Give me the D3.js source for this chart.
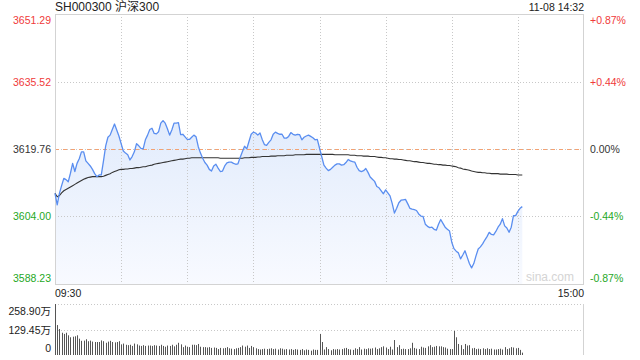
<!DOCTYPE html>
<html>
<head>
<meta charset="utf-8">
<script src="https://cdn.jsdelivr.net/npm/d3@7/dist/d3.min.js"></script>
<style>
  html, body { margin: 0; padding: 0; background: #fff; }
  svg { display: block; font-family: Arial, "Liberation Sans", "Noto Sans CJK SC", sans-serif; }
</style>
</head>
<body>
<svg id="chart" width="640" height="360"></svg>
<script>
// 分时数据 (每分钟, 09:30 起, 共 241 个时间点, 画到 14:32)
const prices = [
  3609.4, 3606.7, 3609.4, 3611.2, 3612.9, 3612.6, 3612.1, 3614.1, 3616.4, 3614.5,
  3616.4, 3617.5, 3619.1, 3619.1, 3617.0, 3616.4, 3615.8, 3615.0, 3614.0, 3613.3,
  3613.7, 3613.7, 3617.0, 3620.5, 3622.5, 3623.0, 3624.3, 3625.6, 3624.2, 3622.8,
  3621.0, 3619.3, 3618.8, 3618.4, 3617.2, 3618.0, 3619.1, 3621.0, 3620.5, 3619.9,
  3619.8, 3621.9, 3623.0, 3624.3, 3624.6, 3623.4, 3623.3, 3623.8, 3625.8, 3626.4,
  3625.8, 3624.5, 3623.0, 3624.2, 3625.8, 3625.8, 3625.9, 3623.1, 3623.2, 3622.6,
  3622.0, 3622.0, 3622.5, 3623.0, 3622.6, 3620.3, 3618.8, 3617.6, 3616.6, 3616.0,
  3615.0, 3614.6, 3615.8, 3616.2, 3615.3, 3614.5, 3614.6, 3615.8, 3616.5, 3616.7,
  3616.7, 3616.4, 3616.2, 3616.3, 3617.8, 3619.1, 3620.4, 3619.8, 3621.5, 3623.2,
  3623.7, 3623.5, 3623.0, 3623.5, 3622.0, 3620.8, 3620.6, 3621.3, 3621.9, 3623.2,
  3623.7, 3623.4, 3623.2, 3623.2, 3622.3, 3622.3, 3622.7, 3623.6, 3623.2, 3623.0,
  3623.2, 3623.1, 3621.9, 3622.5, 3622.8, 3623.0, 3622.7, 3622.4, 3621.9, 3622.0,
  3620.0, 3618.0, 3616.0, 3615.3, 3614.7, 3615.0, 3615.5, 3616.0, 3616.3, 3616.3,
  3616.0, 3616.1, 3616.6, 3617.3, 3617.0, 3616.8, 3616.7, 3615.5, 3614.7, 3614.5,
  3614.7, 3615.2, 3614.3, 3613.2, 3612.7, 3612.2, 3611.0, 3610.7, 3610.0, 3609.3,
  3610.2, 3609.5, 3608.8, 3607.0, 3604.8, 3605.9, 3607.2, 3607.8, 3607.9, 3608.0,
  3607.0, 3605.9, 3605.7, 3605.6, 3605.4, 3604.6, 3604.1, 3604.0, 3602.2, 3601.7,
  3601.4, 3601.5, 3601.0, 3600.8, 3602.2, 3603.3, 3602.4, 3601.5, 3601.0, 3600.6,
  3598.0, 3596.5, 3595.9, 3595.5, 3594.1, 3595.0, 3596.0, 3594.5, 3593.0, 3592.0,
  3593.0, 3594.8, 3596.4, 3596.9, 3597.6, 3598.5, 3599.3, 3600.3, 3599.8, 3599.7,
  3600.5, 3601.5, 3602.2, 3603.5, 3601.8, 3601.3, 3600.3, 3601.5, 3604.2, 3604.2,
  3605.2, 3605.9, 3606.3
];

// 均价
const avgPrices = [
  3609.4, 3608.6, 3608.9, 3609.5, 3610.0, 3610.3, 3610.6, 3610.9, 3611.2, 3611.5,
  3611.8, 3612.1, 3612.4, 3612.7, 3612.9, 3613.1, 3613.2, 3613.3, 3613.3, 3613.3,
  3613.3, 3613.3, 3613.4, 3613.6, 3613.8, 3614.0, 3614.3, 3614.5, 3614.7, 3614.9,
  3615.0, 3615.0, 3615.1, 3615.1, 3615.2, 3615.2, 3615.3, 3615.4, 3615.4, 3615.5,
  3615.6, 3615.6, 3615.8, 3615.9, 3616.0, 3616.2, 3616.3, 3616.4, 3616.5, 3616.6,
  3616.7, 3616.8, 3616.9, 3617.0, 3617.1, 3617.2, 3617.3, 3617.4, 3617.4, 3617.5,
  3617.6, 3617.6, 3617.7, 3617.7, 3617.7, 3617.7, 3617.7, 3617.7, 3617.7, 3617.7,
  3617.7, 3617.7, 3617.7, 3617.7, 3617.7, 3617.6, 3617.6, 3617.6, 3617.6, 3617.6,
  3617.6, 3617.6, 3617.6, 3617.6, 3617.6, 3617.6, 3617.7, 3617.7, 3617.7, 3617.8,
  3617.8, 3617.8, 3617.9, 3617.9, 3618.0, 3618.0, 3618.0, 3618.0, 3618.1, 3618.1,
  3618.1, 3618.2, 3618.2, 3618.2, 3618.2, 3618.3, 3618.3, 3618.3, 3618.3, 3618.4,
  3618.4, 3618.4, 3618.4, 3618.4, 3618.5, 3618.5, 3618.5, 3618.5, 3618.5, 3618.5,
  3618.5, 3618.5, 3618.5, 3618.5, 3618.5, 3618.5, 3618.5, 3618.4, 3618.4, 3618.4,
  3618.4, 3618.4, 3618.4, 3618.4, 3618.3, 3618.3, 3618.3, 3618.2, 3618.2, 3618.2,
  3618.1, 3618.1, 3618.1, 3618.0, 3618.0, 3618.0, 3617.9, 3617.8, 3617.8, 3617.7,
  3617.7, 3617.6, 3617.5, 3617.5, 3617.4, 3617.4, 3617.3, 3617.3, 3617.2, 3617.1,
  3617.0, 3617.0, 3616.9, 3616.8, 3616.8, 3616.7, 3616.6, 3616.6, 3616.5, 3616.4,
  3616.4, 3616.3, 3616.2, 3616.2, 3616.1, 3616.1, 3616.0, 3616.0, 3615.9, 3615.9,
  3615.8, 3615.7, 3615.6, 3615.4, 3615.3, 3615.1, 3615.0, 3614.9, 3614.8, 3614.6,
  3614.5, 3614.4, 3614.3, 3614.3, 3614.2, 3614.2, 3614.1, 3614.1, 3614.0, 3614.0,
  3614.0, 3614.0, 3613.9, 3613.9, 3613.9, 3613.9, 3613.8, 3613.8, 3613.8, 3613.8,
  3613.7, 3613.7, 3613.7
];

// 成交量 (万)
const volumes = [
  258.9, 152, 132, 113, 107, 113, 100, 90, 93, 95,
  100, 83, 72, 73, 80, 70, 73, 68, 66, 66,
  66, 74, 70, 62, 68, 72, 66, 64, 66, 70,
  54, 58, 52, 50, 52, 46, 58, 54, 48, 46,
  50, 46, 48, 48, 46, 50, 48, 46, 52, 46,
  42, 48, 46, 52, 44, 52, 62, 54, 40, 48,
  42, 40, 52, 52, 50, 56, 42, 40, 40, 38,
  40, 36, 38, 36, 30, 36, 34, 36, 40, 34,
  32, 30, 34, 36, 40, 48, 42, 48, 36, 46,
  40, 34, 30, 28, 30, 32, 30, 32, 34, 30,
  32, 28, 34, 32, 28, 30, 28, 30, 26, 30,
  28, 26, 30, 24, 28, 26, 22, 28, 26, 26,
  107, 66, 28, 40, 30, 24, 30, 28, 30, 28,
  30, 34, 36, 30, 28, 26, 34, 30, 40, 28,
  32, 30, 34, 32, 34, 38, 30, 34, 40, 44,
  38, 30, 42, 28, 76, 40, 50, 30, 32, 30,
  30, 34, 62, 36, 32, 30, 42, 38, 36, 44,
  50, 40, 42, 46, 44, 44, 40, 38, 32, 30,
  30, 122, 90, 56, 50, 30, 56, 48, 50, 34,
  36, 30, 32, 30, 34, 30, 34, 30, 32, 28,
  28, 30, 32, 28, 40, 30, 34, 40, 38, 34,
  36, 26, 12
];

const priceTicks = [3651.29, 3635.52, 3619.76, 3604.00, 3588.23];
const pctLabels = ["+0.87%", "+0.44%", "0.00%", "-0.44%", "-0.87%"];
const volTicks = [258.90, 129.45, 0];
const volLabels = ["258.90万", "129.45万", "0"];
const timeLabels = ["09:30", "15:00"];
const title = "SH000300 沪深300";
const stamp = "11-08 14:32";
const prevClose = 3619.76;

const RED = "#f03a3a", GREEN = "#1fa81f", DARK = "#333";
const tickColor = (v) => (v > prevClose ? RED : v < prevClose ? GREEN : DARK);

const svg = d3.select("#chart");
const pLeft = 55, pRight = 584, pTop = 14, pBottom = 284;
const vTop = 304, vBottom = 355;

const x = d3.scaleLinear().domain([0, 240]).range([pLeft, pRight]);
const y = d3.scaleLinear().domain([3588.23, 3651.29]).range([pBottom, pTop]);
const yv = d3.scaleLinear().domain([0, 258.9]).range([vBottom, vTop]);

// Gradient for the area
const defs = svg.append("defs");
const grad = defs.append("linearGradient").attr("id", "fillGrad")
  .attr("gradientUnits", "userSpaceOnUse").attr("x1", 0).attr("x2", 0).attr("y1", pTop).attr("y2", pBottom);
grad.append("stop").attr("offset", "0%").attr("stop-color", "#d3e2fa");
grad.append("stop").attr("offset", "100%").attr("stop-color", "#f8faff");

// Area
svg.append("path")
  .datum(prices)
  .attr("fill", "url(#fillGrad)")
  .attr("d", d3.area().x((d, i) => x(i)).y0(pBottom).y1((d) => y(d)));

// Grid
const gridG = svg.append("g").attr("stroke", "#c8c8c8").attr("stroke-dasharray", "1,2").attr("fill", "none");
gridG.selectAll(".v")
  .data(d3.range(30, 240, 30))
  .join("line")
  .attr("x1", (d) => Math.round(x(d)) + 0.5).attr("x2", (d) => Math.round(x(d)) + 0.5)
  .attr("y1", pTop).attr("y2", pBottom);
gridG.selectAll(".h")
  .data(priceTicks.slice(1, 4))
  .join("line")
  .attr("x1", pLeft).attr("x2", pRight)
  .attr("y1", (d) => Math.round(y(d)) + 0.5).attr("y2", (d) => Math.round(y(d)) + 0.5);

// previous close dashed orange
svg.append("line")
  .attr("x1", pLeft).attr("x2", pRight)
  .attr("y1", Math.round(y(prevClose)) + 0.5).attr("y2", Math.round(y(prevClose)) + 0.5)
  .attr("stroke", "#f3a273").attr("stroke-dasharray", "4,4");

// Frame
svg.append("rect")
  .attr("x", pLeft + 0.5).attr("y", pTop + 0.5)
  .attr("width", pRight - pLeft - 1).attr("height", pBottom - pTop)
  .attr("fill", "none").attr("stroke", "#d3d3d3");

svg.append("path")
  .datum(avgPrices)
  .attr("fill", "none").attr("stroke", "#333").attr("stroke-width", 1.1)
  .attr("d", d3.line().x((d, i) => x(i)).y((d) => y(d)));

svg.append("path")
  .datum(prices)
  .attr("fill", "none").attr("stroke", "#5a8ef0").attr("stroke-width", 1.3)
  .attr("stroke-linejoin", "round")
  .attr("d", d3.line().x((d, i) => x(i)).y((d) => y(d)));

// watermark
svg.append("text")
  .attr("x", pRight - 10).attr("y", 281)
  .attr("text-anchor", "end")
  .attr("font-size", 12).attr("fill", "#d4d4d4")
  .text("sina.com");

// Price labels
const yOffset = (i) => (i === 0 ? 10 : i === priceTicks.length - 1 ? -2 : 4);
svg.selectAll(".pl")
  .data(priceTicks)
  .join("text")
  .attr("x", 51).attr("y", (d, i) => y(d) + yOffset(i))
  .attr("text-anchor", "end").attr("font-size", 10.5)
  .attr("fill", (d) => tickColor(d))
  .text((d) => d.toFixed(2));

svg.selectAll(".pr")
  .data(priceTicks)
  .join("text")
  .attr("x", 590).attr("y", (d, i) => y(d) + yOffset(i))
  .attr("font-size", 10.5)
  .attr("fill", (d) => tickColor(d))
  .text((d, i) => pctLabels[i]);

// Title and stamp
svg.append("text").attr("x", pLeft).attr("y", 11).attr("font-size", 12).attr("fill", "#222").text(title);
svg.append("text").attr("x", pRight).attr("y", 11).attr("font-size", 10.5).attr("fill", "#222")
  .attr("text-anchor", "end").text(stamp);

// Time labels
svg.append("text").attr("x", pLeft).attr("y", 297).attr("font-size", 10.5).attr("fill", "#222").text(timeLabels[0]);
svg.append("text").attr("x", pRight).attr("y", 297).attr("font-size", 10.5).attr("fill", "#222")
  .attr("text-anchor", "end").text(timeLabels[1]);

// Volume panel
const vg = svg.append("g").attr("stroke", "#c8c8c8").attr("stroke-dasharray", "1,2");
vg.selectAll("line")
  .data(volTicks.slice(0, 2))
  .join("line")
  .attr("x1", pLeft).attr("x2", pRight)
  .attr("y1", (d) => Math.round(yv(d)) + 0.5).attr("y2", (d) => Math.round(yv(d)) + 0.5);
svg.append("line")
  .attr("x1", pRight - 0.5).attr("x2", pRight - 0.5).attr("y1", vTop).attr("y2", vBottom)
  .attr("stroke", "#d3d3d3");

svg.append("g")
  .selectAll("rect")
  .data(volumes)
  .join("rect")
  .attr("x", (d, i) => Math.round(x(i)))
  .attr("width", 1)
  .attr("y", (d) => yv(d))
  .attr("height", (d) => vBottom - yv(d))
  .attr("fill", "#555");

const vOffset = [11, 4, -3];
svg.selectAll(".vl")
  .data(volTicks)
  .join("text")
  .attr("x", 51).attr("y", (d, i) => yv(d) + vOffset[i])
  .attr("text-anchor", "end").attr("font-size", 10.5).attr("fill", "#222")
  .text((d, i) => volLabels[i]);
</script>
</body>
</html>
